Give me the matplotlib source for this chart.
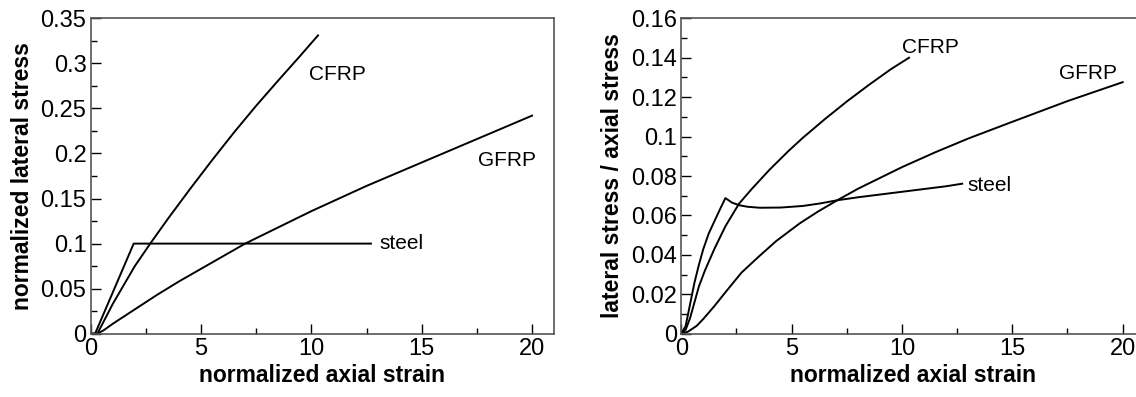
import matplotlib.pyplot as plt
from matplotlib.ticker import FuncFormatter, MultipleLocator

plt.rcParams["font.family"] = ["Liberation Sans", "DejaVu Sans"]

# left panel: normalized lateral stress vs normalized axial strain
cfrp_x = [0, 0.3, 0.6, 1.0, 1.5, 2.0, 2.7, 3.5, 4.5, 5.5, 6.5, 7.5, 8.5, 9.5, 10.3]
cfrp_y = [0, 0.0, 0.014, 0.033, 0.054, 0.075, 0.1, 0.1275, 0.1605, 0.1925, 0.2235, 0.253,
          0.281, 0.3085, 0.331]

gfrp_x = [0, 0.3, 0.6, 1.0, 1.5, 2.0, 3.0, 4.0, 5.0, 6.0, 7.0, 8.5, 10.0, 12.5, 15.0, 17.5, 20.0]
gfrp_y = [0, 0.0, 0.004, 0.011, 0.019, 0.027, 0.043, 0.058, 0.072, 0.086, 0.1, 0.118, 0.136,
          0.164, 0.19, 0.216, 0.242]

steel_x = [0, 0.2, 1.95, 12.7]
steel_y = [0, 0.0, 0.1, 0.1]

# right panel: lateral stress / axial stress
cfrp_r_x = [0, 0.2, 0.4, 0.6, 0.8, 1.07, 1.5, 2.0, 2.62, 3.2, 4.0, 4.84, 5.5, 6.5, 7.5, 8.5, 9.5, 10.32]
cfrp_r_y = [0, 0.002, 0.008, 0.016, 0.024, 0.032, 0.043, 0.0545, 0.066, 0.0735, 0.0832, 0.0925,
            0.0993, 0.1088, 0.1178, 0.1262, 0.1342, 0.14]

gfrp_r_x = [0, 0.3, 0.7, 1.0, 1.5, 2.0, 2.73, 3.5, 4.3, 5.37, 6.2, 7.07, 8.0, 9.0, 10.0, 11.5,
            13.0, 15.0, 17.5, 20.0]
gfrp_r_y = [0, 0.001, 0.004, 0.0075, 0.014, 0.021, 0.031, 0.039, 0.047, 0.056, 0.062, 0.0677,
            0.0735, 0.079, 0.0845, 0.092, 0.099, 0.1075, 0.118, 0.1276]

steel_r_x = [0, 0.2, 0.4, 0.6, 0.8, 1.0, 1.25, 1.5, 1.75, 2.0, 2.3, 2.62, 3.0, 3.56, 4.5, 5.5,
             6.3, 7.07, 8.0, 9.0, 10.0, 11.0, 12.0, 12.73]
steel_r_y = [0, 0.004, 0.015, 0.026, 0.035, 0.043, 0.051, 0.057, 0.063, 0.0688, 0.0665, 0.0652,
             0.0644, 0.0639, 0.064, 0.0648, 0.0661, 0.0677, 0.0692, 0.0706, 0.072, 0.0734,
             0.0748, 0.0761]

xticks = [0, 5, 10, 15, 20]
left_yticks = [0, 0.05, 0.1, 0.15, 0.2, 0.25, 0.3, 0.35]
right_yticks = [0, 0.02, 0.04, 0.06, 0.08, 0.1, 0.12, 0.14, 0.16]

fig = plt.figure(figsize=(11.36, 3.97), dpi=100)
ax1 = fig.add_axes([0.0798, 0.1594, 0.408, 0.7945])
ax2 = fig.add_axes([0.5997, 0.1594, 0.408, 0.7945])


def style(ax, yticks, yminor):
    ax.set_xlim(0, 21)
    ax.set_ylim(yticks[0], yticks[-1])
    ax.set_xticks(xticks)
    ax.set_yticks(yticks)
    ax.xaxis.set_minor_locator(MultipleLocator(2.5))
    ax.yaxis.set_minor_locator(MultipleLocator(yminor))
    fmt = FuncFormatter(lambda v, p: "%g" % round(v, 4))
    ax.xaxis.set_major_formatter(fmt)
    ax.yaxis.set_major_formatter(fmt)
    ax.tick_params(which="both", direction="in", top=False, right=False,
                   labelsize=17, width=1, color="black")
    ax.tick_params(which="major", length=7, pad=3)
    ax.tick_params(which="minor", length=4)
    for s in ax.spines.values():
        s.set_color("#555555")
        s.set_linewidth(1.2)
    ax.set_xlabel("normalized axial strain", fontsize=16.5, fontweight="bold", labelpad=3)


ax1.plot(cfrp_x, cfrp_y, color="black", lw=1.4)
ax1.plot(gfrp_x, gfrp_y, color="black", lw=1.4)
ax1.plot(steel_x, steel_y, color="black", lw=1.4)
ax1.text(9.9, 0.2876, "CFRP", fontsize=15, va="center")
ax1.text(17.57, 0.192, "GFRP", fontsize=15, va="center")
ax1.text(13.08, 0.1, "steel", fontsize=15, va="center")
style(ax1, left_yticks, 0.025)
ax1.set_ylabel("normalized lateral stress", fontsize=16.5, fontweight="bold", labelpad=5)

ax2.plot(cfrp_r_x, cfrp_r_y, color="black", lw=1.4)
ax2.plot(gfrp_r_x, gfrp_r_y, color="black", lw=1.4)
ax2.plot(steel_r_x, steel_r_y, color="black", lw=1.4)
ax2.text(9.98, 0.1453, "CFRP", fontsize=15, va="center")
ax2.text(17.1, 0.1318, "GFRP", fontsize=15, va="center")
ax2.text(12.98, 0.0753, "steel", fontsize=15, va="center")
style(ax2, right_yticks, 0.01)
ax2.set_ylabel("lateral stress / axial stress", fontsize=16.5, fontweight="bold", labelpad=5)

fig.savefig("out.png", dpi=100)
